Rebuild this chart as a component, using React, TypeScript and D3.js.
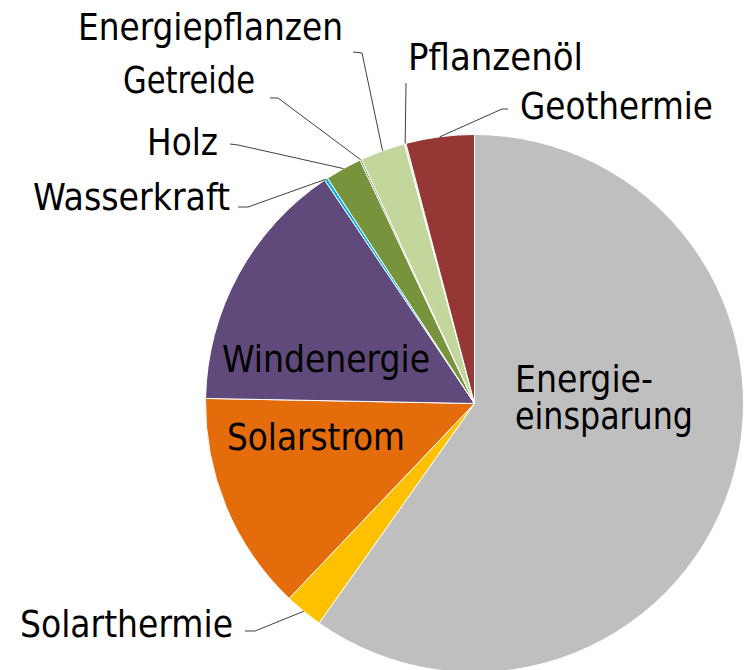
import React from "react";
import * as d3 from "d3";

const categories = [
  "Energieeinsparung",
  "Solarthermie",
  "Solarstrom",
  "Windenergie",
  "Wasserkraft",
  "Holz",
  "Getreide",
  "Energiepflanzen",
  "Pflanzenöl",
  "Geothermie",
];
const values = [59.8, 2.3, 13.2, 15.3, 0.2, 2.2, 0.1, 2.7, 0.1, 4.1];
const colors = [
  "#BFBFBF",
  "#FFC000",
  "#E46C0A",
  "#604A7B",
  "#00B0F0",
  "#77933C",
  "#4F6228",
  "#C3D69B",
  "#D7E4BD",
  "#953735",
];

// Layout (positions of labels, not data)
const W = 744;
const H = 670;
const CX = 474.5;
const CY = 403.5;
const R = 269;
const FONT = "'DejaVu Sans Condensed', 'DejaVu Sans', sans-serif";
const FS = 38;

type Outside = { x: number; y: number; w: number; ax: number; ay: number; bx?: number; by?: number };
const outsideLayout: Record<string, Outside> = {
  Solarthermie: { x: 20, y: 637, w: 213, ax: 245, ay: 631, bx: 255, by: 631 },
  Wasserkraft: { x: 33, y: 210, w: 197, ax: 238, ay: 207, bx: 248, by: 207 },
  Holz: { x: 147, y: 155, w: 71, ax: 230, ay: 144, bx: 238, by: 145 },
  Getreide: { x: 123, y: 93, w: 132, ax: 270, ay: 98, bx: 278, by: 98 },
  Energiepflanzen: { x: 78, y: 40, w: 265, ax: 353, ay: 52, bx: 362, by: 53 },
  "Pflanzenöl": { x: 408, y: 70, w: 175, ax: 406, ay: 83 },
  Geothermie: { x: 520, y: 119, w: 193, ax: 508, ay: 109, bx: 502, by: 109 },
};
type Inside = { lines: string[]; x: number; y: number; w: number[]; lh: number };
const insideLayout: Record<string, Inside> = {
  Energieeinsparung: { lines: ["Energie-", "einsparung"], x: 515, y: 392, w: [138, 178], lh: 37 },
  Windenergie: { lines: ["Windenergie"], x: 222, y: 372, w: [208], lh: 0 },
  Solarstrom: { lines: ["Solarstrom"], x: 227, y: 450, w: [178], lh: 0 },
};

export default function App() {
  const data = categories.map((c, i) => ({ name: c, value: values[i], color: colors[i] }));
  const pie = d3
    .pie<{ name: string; value: number; color: string }>()
    .sort(null)
    .value((d) => d.value)
    .startAngle(0)
    .endAngle(2 * Math.PI);
  const arcs = pie(data);
  const arc = d3
    .arc<d3.PieArcDatum<{ name: string; value: number; color: string }>>()
    .innerRadius(0)
    .outerRadius(R);

  const rimPoint = (a: d3.PieArcDatum<any>) => {
    const m = (a.startAngle + a.endAngle) / 2;
    return [CX + R * Math.sin(m), CY - R * Math.cos(m)];
  };

  return (
    <svg
      width={W}
      height={H}
      style={{ position: "absolute", left: 0, top: 0, background: "#fff" }}
      fontFamily={FONT}
    >
      <g transform={`translate(${CX},${CY})`}>
        {arcs.map((a) => (
          <path key={a.data.name} d={arc(a) || ""} fill={a.data.color} stroke="#fff" strokeWidth={1} strokeLinejoin="round" />
        ))}
      </g>
      {arcs.map((a) => {
        const L = outsideLayout[a.data.name];
        if (!L) return null;
        const [px, py] = rimPoint(a);
        const pts =
          L.bx !== undefined ? `${L.ax},${L.ay} ${L.bx},${L.by} ${px},${py}` : `${L.ax},${L.ay} ${px},${py}`;
        return (
          <g key={"o" + a.data.name}>
            <polyline points={pts} fill="none" stroke="#404040" strokeWidth={1} />
            <text x={L.x} y={L.y} fontSize={FS} fill="#000" textLength={L.w} lengthAdjust="spacingAndGlyphs">
              {a.data.name}
            </text>
          </g>
        );
      })}
      {arcs.map((a) => {
        const L = insideLayout[a.data.name];
        if (!L) return null;
        return (
          <g key={"i" + a.data.name}>
            {L.lines.map((ln, j) => (
              <text
                key={j}
                x={L.x}
                y={L.y + j * L.lh}
                fontSize={FS}
                fill="#000"
                textLength={L.w[j]}
                lengthAdjust="spacingAndGlyphs"
              >
                {ln}
              </text>
            ))}
          </g>
        );
      })}
    </svg>
  );
}
